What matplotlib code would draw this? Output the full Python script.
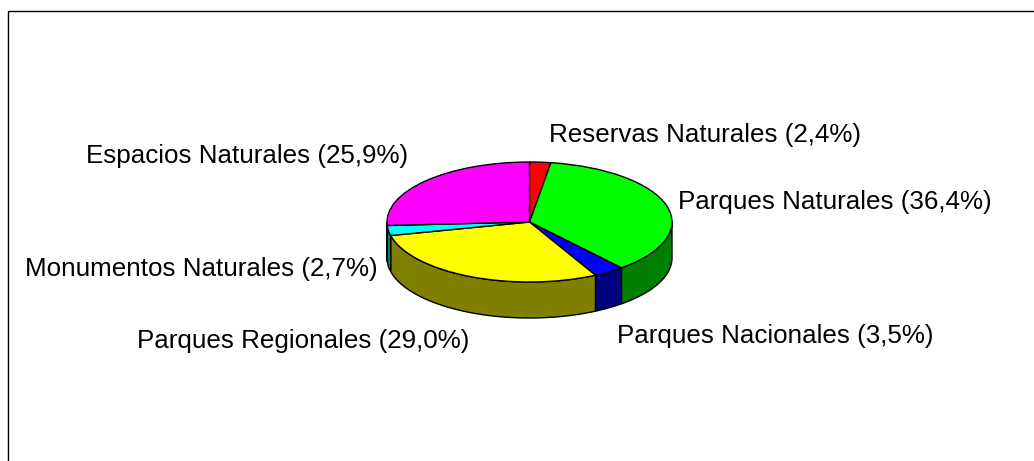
import numpy as np
import matplotlib
matplotlib.use("Agg")
import matplotlib.pyplot as plt
from matplotlib.patches import Rectangle

labels = ["Reservas Naturales (2,4%)", "Parques Naturales (36,4%)", "Parques Nacionales (3,5%)",
          "Parques Regionales (29,0%)", "Monumentos Naturales (2,7%)", "Espacios Naturales (25,9%)"]
values = [2.4, 36.4, 3.5, 29.0, 2.7, 25.9]
top_colors = ["#ff0000", "#00ff00", "#0000ff", "#ffff00", "#00ffff", "#ff00ff"]
side_colors = ["#800000", "#008000", "#000080", "#808000", "#008080", "#800080"]
label_px = [(549, 135), (678, 202), (617, 336), (137, 341), (25, 269), (86, 156)]

W, H = 1034, 461
CX, CY, RX, RY, DEPTH = 529.5, 222, 142.5, 60, 36

fig = plt.figure(figsize=(W / 100, H / 100), dpi=100, facecolor="white")
ax = fig.add_axes([0, 0, 1, 1])
ax.pie(values, colors=top_colors, startangle=90, counterclock=False, radius=1,
       wedgeprops=dict(edgecolor="black", linewidth=1.0, zorder=3))
ax.set_aspect("auto")
ax.set_xlim(-CX / RX, (W - CX) / RX)
ax.set_ylim((CY - H) / RY, CY / RY)
ax.axis("off")

d = DEPTH / RY
edges = np.concatenate([[0], np.cumsum(values)]) / sum(values) * 2 * np.pi
for a0, a1, c in zip(edges[:-1], edges[1:], side_colors):
    lo, hi = max(a0, np.pi / 2), min(a1, 3 * np.pi / 2)
    if hi <= lo:
        continue
    t = np.linspace(lo, hi, 120)
    x, y = np.sin(t), np.cos(t)
    ax.fill(np.r_[x, x[::-1]], np.r_[y, y[::-1] - d], facecolor=c,
            edgecolor="black", linewidth=1.0, zorder=2)

fig.add_artist(Rectangle((8 / W, -0.1), 1.2, 1 - 11.5 / H + 0.1, transform=fig.transFigure,
                         facecolor="none", edgecolor="black", linewidth=1.0))

for s, (px, py) in zip(labels, label_px):
    fig.text(px / W, 1 - py / H, s, ha="left", va="center", fontsize=18.7,
             family="Liberation Sans", color="black")

fig.savefig("out.png", dpi=100)
